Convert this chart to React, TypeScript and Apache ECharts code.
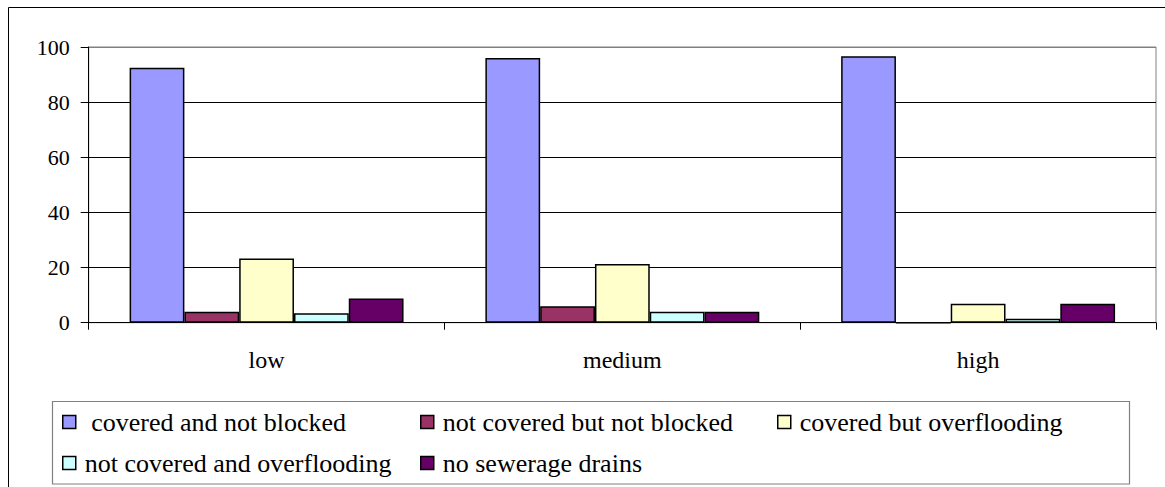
import React, { useEffect, useRef } from "react";
import * as echarts from "echarts";

const categories = ["low", "medium", "high"];
const seriesNames = [
  "covered and not blocked",
  "not covered but not blocked",
  "covered but overflooding",
  "not covered and overflooding",
  "no sewerage drains",
];
const coveredNotBlocked = [92.5, 96, 96.6];
const notCoveredNotBlocked = [4, 6, 0];
const coveredOverflooding = [23.3, 21.3, 6.9];
const notCoveredOverflooding = [3.4, 4, 1.4];
const noSewerage = [8.8, 4, 6.9];
const seriesValues = [
  coveredNotBlocked,
  notCoveredNotBlocked,
  coveredOverflooding,
  notCoveredOverflooding,
  noSewerage,
];
const yTicks = { min: 0, max: 100, interval: 20 };
const colors = ["#9999FF", "#993366", "#FFFFCC", "#CCFFFF", "#660066"];

const FONT = "Liberation Serif";

export default function App() {
  const ref = useRef<HTMLDivElement>(null);
  useEffect(() => {
    if (!ref.current) return;
    const chart = echarts.init(ref.current, undefined, { renderer: "svg" });
    const legendPos = [
      { left: 62, top: 409 },
      { left: 420, top: 409 },
      { left: 777, top: 409 },
      { left: 62, top: 450 },
      { left: 420, top: 450 },
    ];
    chart.setOption({
      animation: false,
      backgroundColor: "#ffffff",
      textStyle: { fontFamily: FONT },
      grid: {
        left: 88.7,
        right: 9,
        top: 47,
        bottom: 164.3,
        show: true,
        borderColor: "#808080",
        borderWidth: 1,
        backgroundColor: "transparent",
      },
      xAxis: {
        type: "category",
        data: categories,
        axisLine: { lineStyle: { color: "#000", width: 1 } },
        axisTick: { show: true, inside: false, length: 7, lineStyle: { color: "#000" } },
        axisLabel: { color: "#000", fontFamily: FONT, fontSize: 24, margin: 25 },
        splitLine: { show: false },
      },
      yAxis: {
        type: "value",
        min: yTicks.min,
        max: yTicks.max,
        interval: yTicks.interval,
        axisLine: { show: true, lineStyle: { color: "#000", width: 1 } },
        axisTick: { show: true, length: 8, lineStyle: { color: "#000" } },
        axisLabel: { color: "#000", fontFamily: FONT, fontSize: 22, margin: 19 },
        splitLine: {
          show: true,
          lineStyle: {
            color: ["#000", "#000", "#000", "#000", "#000", "#808080"],
            width: 1,
          },
        },
      },
      legend: seriesNames.map((name, i) => ({
        data: [name],
        left: legendPos[i].left,
        top: legendPos[i].top,
        padding: 0,
        icon: "rect",
        itemWidth: 13,
        itemHeight: 13,
        itemStyle: { borderColor: "#000", borderWidth: 1.5 },
        formatter: (n: string) => (i === 0 ? " " + n : n),
        textStyle: {
          color: "#000",
          fontFamily: FONT,
          fontSize: 26,
          padding: [0, 0, 0, 4],
        },
        selectedMode: false,
      })),
      graphic: [
        {
          type: "rect",
          silent: true,
          shape: { x: 8.5, y: 7.5, width: 1200, height: 600 },
          style: { fill: "none", stroke: "#000", lineWidth: 1 },
          z: -1,
        },
        {
          type: "rect",
          silent: true,
          shape: { x: 52.5, y: 401.5, width: 1077, height: 82.5 },
          style: { fill: "none", stroke: "#808080", lineWidth: 1.2 },
          z: -1,
        },
      ],
      series: seriesNames.map((name, i) => ({
        name,
        type: "bar",
        data: seriesValues[i],
        barGap: "0%",
        barCategoryGap: "23%",
        itemStyle: { color: colors[i], borderColor: "#000", borderWidth: 1.5 },
      })),
    });
    return () => chart.dispose();
  }, []);
  return (
    <>
      <style>{`.chart-root svg text { font-family: "Liberation Serif", "Times New Roman", serif !important; }`}</style>
      <div
        ref={ref}
        className="chart-root"
        style={{ position: "absolute", left: 0, top: 0, width: 1165, height: 487 }}
      />
    </>
  );
}
